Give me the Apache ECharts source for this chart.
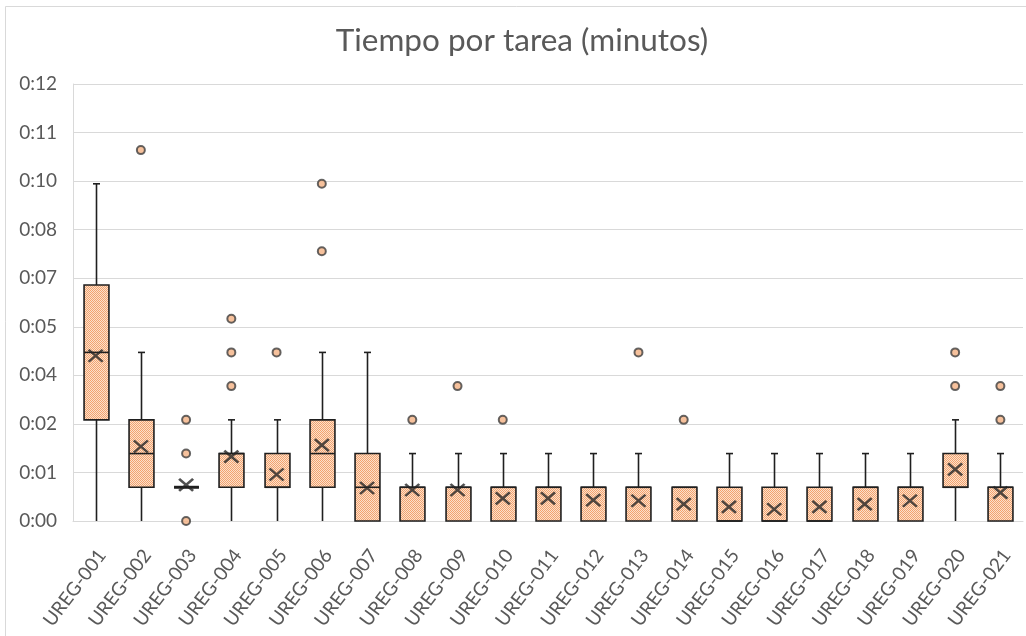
<!DOCTYPE html>
<html>
<head>
<meta charset="utf-8">
<script src="https://cdn.jsdelivr.net/npm/echarts@6/dist/echarts.min.js"></script>
<style>
html,body{margin:0;padding:0;background:#fff;}
#chart{width:1026px;height:636px;}
</style>
</head>
<body>
<div id="chart"></div>
<script>
// ---- data (minutes) ----
const categories = ['UREG-001','UREG-002','UREG-003','UREG-004','UREG-005','UREG-006','UREG-007','UREG-008','UREG-009','UREG-010','UREG-011','UREG-012','UREG-013','UREG-014','UREG-015','UREG-016','UREG-017','UREG-018','UREG-019','UREG-020','UREG-021'];
const whiskerLow  = [0,0,1,0,0,0,0,0,0,0,0,0,0,0,0,0,0,0,0,0,0];
const q1Values    = [3,1,1,1,1,1,0,0,0,0,0,0,0,0,0,0,0,0,0,1,0];
const medianValues= [5,2,1,2,1,2,1,1,1,1,1,1,1,1,0,0,0,1,1,1,1];
const q3Values    = [7,3,1,2,2,3,2,1,1,1,1,1,1,1,1,1,1,1,1,2,1];
const whiskerHigh = [10,5,1,3,3,5,5,2,2,2,2,2,2,1,2,2,2,2,2,3,2];
const meanValues  = [4.9,2.21,1.07,1.91,1.38,2.25,0.98,0.92,0.92,0.67,0.67,0.62,0.6,0.5,0.42,0.35,0.42,0.5,0.6,1.53,0.84];
const outliers    = [[],[11],[0,2,3],[4,5,6],[5],[8,10],[],[3],[4],[3],[],[],[5],[3],[],[],[],[],[],[4,5],[3,4]];
const tickLabels  = ['0:00','0:01','0:02','0:04','0:05','0:07','0:08','0:10','0:11','0:12'];
const tickStep = 1.44; // 0.001 day in minutes

// ---- pattern fill ----
const pc = document.createElement('canvas');
pc.width = 2; pc.height = 2;
const pctx = pc.getContext('2d');
pctx.fillStyle = '#FCE0CB'; pctx.fillRect(0,0,2,2);
pctx.fillStyle = '#F2A36F'; pctx.fillRect(0,0,1,1); pctx.fillRect(1,1,1,1);
const boxFill = {image: pc, repeat: 'repeat'};

const boxData = categories.map((c,i)=>[i, whiskerLow[i], q1Values[i], medianValues[i], q3Values[i], whiskerHigh[i]]);
const meanData = categories.map((c,i)=>[i, meanValues[i]]);
const outlierData = [];
outliers.forEach((arr,i)=>arr.forEach(v=>outlierData.push([i,v])));

function renderBox(params, api){
  const i = api.value(0);
  const lo = api.coord([i, api.value(1)]);
  const q1 = api.coord([i, api.value(2)]);
  const med = api.coord([i, api.value(3)]);
  const q3 = api.coord([i, api.value(4)]);
  const hi = api.coord([i, api.value(5)]);
  const band = api.size([1,0])[0];
  const bw = band*0.55;
  const x = Math.round(lo[0]) + 0.5;
  const cap = 3.5;
  const ls = {stroke:'#1F1F1F', lineWidth:1.6};
  const ch = [];
  if (lo[1] - q1[1] > 0.5) {
    ch.push({type:'line', shape:{x1:x,y1:lo[1],x2:x,y2:q1[1]}, style:ls});
    if (api.value(1) > 0) ch.push({type:'line', shape:{x1:x-cap,y1:lo[1],x2:x+cap,y2:lo[1]}, style:ls});
  }
  if (q3[1] - hi[1] > 0.5) {
    ch.push({type:'line', shape:{x1:x,y1:hi[1],x2:x,y2:q3[1]}, style:ls});
    ch.push({type:'line', shape:{x1:x-cap,y1:hi[1],x2:x+cap,y2:hi[1]}, style:ls});
  }
  ch.push({type:'rect', shape:{x:x-bw/2, y:q3[1], width:bw, height:q1[1]-q3[1]}, style:{fill:boxFill, stroke:'#1F1F1F', lineWidth:1.6}});
  ch.push({type:'line', shape:{x1:x-bw/2,y1:med[1],x2:x+bw/2,y2:med[1]}, style:{stroke:'#1F1F1F', lineWidth: (q1[1]-q3[1] < 1) ? 3 : 1.6}});
  return {type:'group', children: ch};
}

const chart = echarts.init(document.getElementById('chart'), null, {renderer:'canvas'});
chart.setOption({
  animation:false,
  backgroundColor:'#fff',
  textStyle:{fontFamily:'Lato'},
  graphic:[{type:'rect', shape:{x:5.5,y:6.5,width:1040,height:660}, style:{fill:'none', stroke:'#D9D9D9', lineWidth:1}, silent:true, z:-10}],
  title:{
    text:'Tiempo por tarea (minutos)',
    left:517, top:20, textAlign:'center',
    textStyle:{fontFamily:'Lato', fontSize:31.5, fontWeight:'normal', color:'#595959'}
  },
  grid:{left:73, right:3, top:84, bottom:115},
  xAxis:{
    type:'category', data:categories, boundaryGap:true,
    axisLine:{show:true, lineStyle:{color:'#D9D9D9', width:1}},
    axisTick:{show:false},
    axisLabel:{rotate:53, interval:0, margin:26, verticalAlign:'top', lineHeight:16, fontFamily:'Lato', fontSize:19, color:'#595959'},
    splitLine:{show:false}
  },
  yAxis:{
    type:'value', min:0, max:tickStep*9, interval:tickStep,
    axisLine:{show:true, lineStyle:{color:'#D9D9D9', width:1}},
    axisTick:{show:false},
    axisLabel:{margin:16, fontFamily:'Lato', fontSize:19, color:'#595959',
      formatter:(v)=>tickLabels[Math.round(v/tickStep)]},
    splitLine:{show:true, lineStyle:{color:'#D9D9D9', width:1}}
  },
  series:[
    {type:'custom', renderItem:renderBox, data:boxData, encode:{x:0, y:[1,2,3,4,5]}, z:2},
    {type:'scatter', data:meanData, symbol:'path://M0 0L10 10M10 0L0 10', symbolSize:[14,12],
      itemStyle:{color:'rgba(0,0,0,0)', borderColor:'#262626', borderWidth:2.5}, z:4},
    {type:'scatter', data:outlierData, symbol:'circle', symbolSize:8,
      itemStyle:{color:'#F4B183', borderColor:'#3F3F3F', borderWidth:2}, z:3}
  ]
});
</script>
</body>
</html>
